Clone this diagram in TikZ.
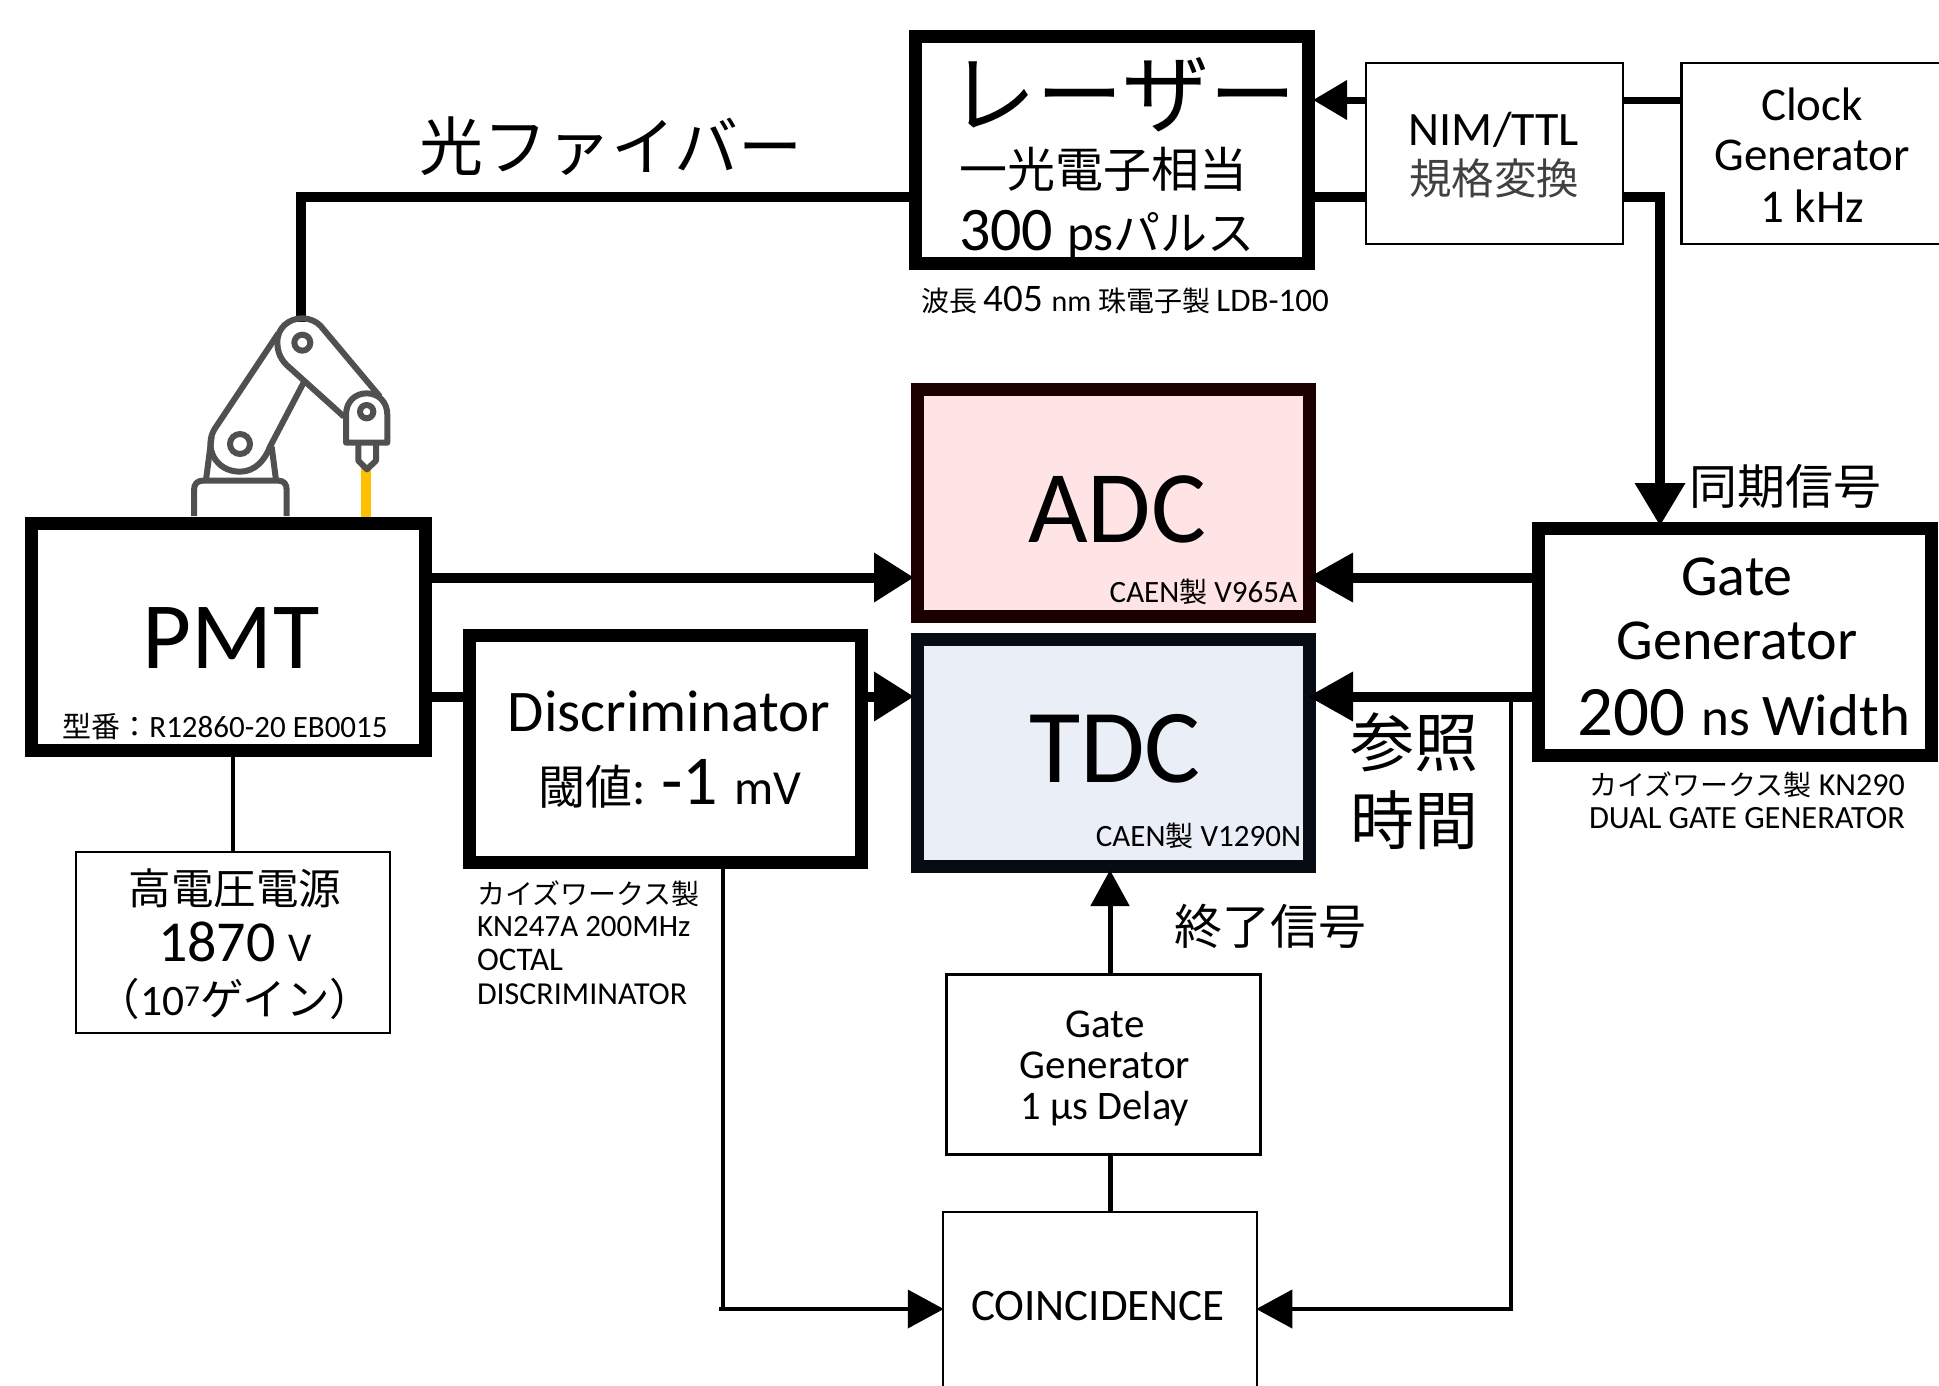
\documentclass[tikz,border=0pt]{standalone}
\usepackage{fontspec}
\setmainfont{Carlito}
\newfontfamily\cjk{Noto Sans CJK JP}
\usetikzlibrary{arrows.meta}
\newcommand{\fs}[1]{\fontsize{#1}{#1}\selectfont}
\newcommand{\cj}[1]{{\cjk #1}}
\definecolor{armgray}{HTML}{505050}
\definecolor{beamyellow}{HTML}{FFC000}
\definecolor{adcfill}{HTML}{FFE4E5}
\definecolor{adcedge}{HTML}{1A0000}
\definecolor{tdcfill}{HTML}{EAEEF7}
\definecolor{tdcedge}{HTML}{060B14}
\tikzset{
  thickbox/.style={draw=black,line width=13pt,inner sep=0pt,fill=white},
  thinbox/.style={draw=black,line width=2.5pt,inner sep=0pt,fill=white},
  lbl/.style={inner sep=0pt,outer sep=0pt,anchor=center,align=center},
  wire/.style={draw=black,line width=10pt},
  midwire/.style={draw=black,line width=7pt},
  fine/.style={draw=black,line width=4pt},
  stopline/.style={draw=black,line width=5pt},
  bighead/.style={-{Triangle[length=40pt,width=47pt]}},
  rearhead/.style={-{Triangle[length=45pt,width=47pt]}},
  laserhead/.style={-{Triangle[length=34pt,width=38pt]}},
  smallhead/.style={-{Triangle[length=36pt,width=38pt]}},
  armline/.style={draw=armgray,line width=6pt,line join=round}
}
\begin{document}
\begin{tikzpicture}[x=1pt,y=-1pt]
\useasboundingbox (0,0) rectangle (1939,1385);

% boxes
\node[thickbox,minimum width=393pt,minimum height=227pt] (laser) at (1112,150) {};
\node[thickbox,draw=adcedge,fill=adcfill,minimum width=392pt,minimum height=227pt] (adc) at (1113.5,503) {};
\node[thickbox,draw=tdcedge,fill=tdcfill,minimum width=392pt,minimum height=227pt] (tdc) at (1113.5,753) {};
\node[thickbox,minimum width=394pt,minimum height=227pt] (pmt) at (228.5,637) {};
\node[thickbox,minimum width=392pt,minimum height=227pt] (disc) at (665,749) {};
\node[thickbox,minimum width=393pt,minimum height=227pt] (gate) at (1735,642) {};
\node[thinbox,minimum width=257pt,minimum height=181pt] (nim) at (1494.5,153.5) {};
\node[thinbox,minimum width=259pt,minimum height=181pt] (clock) at (1811,153.5) {};
\node[thinbox,minimum width=314pt,minimum height=181pt] (hv) at (233,942.5) {};
\node[thinbox,minimum width=314pt,minimum height=180pt] (delay) at (1103.5,1064.5) {};
\node[thinbox,minimum width=314pt,minimum height=188pt] (coin) at (1100,1306) {};

% helper coordinates
\coordinate (robottop) at (300.5,322);
\coordinate (nozzle) at (366,467);
\coordinate (fiberx) at (300.5,0);
\coordinate (ylaserin) at (0,100);
\coordinate (ylaserout) at (0,196.5);
\coordinate (ysync) at (1660,0);
\coordinate (yadc) at (0,577.5);
\coordinate (ytdc) at (0,696.5);
\coordinate (xhv) at (232.5,0);
\coordinate (xstop) at (1110,0);
\coordinate (xdisc) at (723,0);
\coordinate (xstub) at (719,0);
\coordinate (xref) at (1510.5,0);
\coordinate (ycoin) at (0,1309);

% connectors
\draw[wire] (laser.west |- ylaserout) -- (fiberx |- ylaserout) -- (robottop);
\draw[midwire] (clock.west |- ylaserin) -- (nim.east |- ylaserin);
\draw[midwire,laserhead] (nim.west |- ylaserin) -- ([xshift=-2pt]laser.east |- ylaserin);
\draw[wire] (laser.east |- ylaserout) -- (nim.west |- ylaserout);
\draw[wire,-{Triangle[length=43pt,width=48pt]}] (nim.east |- ylaserout) -- (ysync |- ylaserout) -- ([yshift=-4pt]ysync |- gate.north);
\draw[wire,bighead] (pmt.east |- yadc) -- ([xshift=3pt]adc.west |- yadc);
\draw[wire] (pmt.east |- ytdc) -- (disc.west |- ytdc);
\draw[wire,bighead] (disc.east |- ytdc) -- ([xshift=3pt]tdc.west |- ytdc);
\draw[wire,rearhead] (gate.west |- yadc) -- ([xshift=-8pt]adc.east |- yadc);
\draw[wire,rearhead] (gate.west |- ytdc) -- ([xshift=-8pt]tdc.east |- ytdc);
\draw[fine] (pmt.south -| xhv) -- (hv.north -| xhv);
\draw[stopline,smallhead] (delay.north -| xstop) -- ([yshift=3pt]tdc.south -| xstop);
\draw[stopline] (coin.north -| xstop) -- (delay.south -| xstop);
\draw[fine] (disc.south -| xdisc) -- (xdisc |- ycoin);
\draw[fine,smallhead] (xstub |- ycoin) -- ([xshift=2pt]coin.west |- ycoin);
\draw[fine,smallhead,line join=miter] (xref |- ytdc) -- (xref |- ycoin) -- ([xshift=-2pt]coin.east |- ycoin);

% robot arm
\draw[beamyellow,line width=10pt] (nozzle) -- (pmt.north -| nozzle);
\begin{scope}[shift={(170,290)},x=0.33333pt,y=-0.33333pt]
  \draw[armline] (72,678) -- (72,600) .. controls (72,582) and (82,572) .. (98,572) -- (325,572) .. controls (342,572) and (350,582) .. (350,600) -- (350,678);
  \draw[armline] (125,440) -- (108,570);
  \draw[armline] (305,470) -- (318,570);
  \draw[armline] (325,130) -- (135,415) .. controls (100,470) and (135,545) .. (210,545) .. controls (255,545) and (285,510) .. (300,470) -- (405,270);
  \draw[armline] (210,462) circle (30);
  \draw[armline] (522,380) -- (350,225) .. controls (325,200) and (322,175) .. (322,155) .. controls (322,115) and (355,85) .. (397,85) .. controls (420,85) and (440,95) .. (452,108) -- (630,320);
  \draw[armline] (397,158) circle (24);
  \draw[armline,fill=white] (528,458) -- (528,375) .. controls (528,335) and (555,310) .. (590,310) .. controls (625,310) and (652,335) .. (652,375) -- (652,458) -- cycle;
  \draw[armline] (590,365) circle (20);
  \draw[armline] (565,458) -- (565,512) -- (591,538) -- (618,512) -- (618,458);
\end{scope}

% laser
\node[lbl,font=\fs{87}] (t1) at (1123,95) {\cj{レーザー}};
\node[lbl,font=\fs{48}] (t2) at (1103,169) {\cj{一光電子相当}};
\node[lbl] (t3) at (1107,234) {\fs{62}300 \fs{51}ps\cj{\fs{47}パルス}};
\node[lbl] (t4) at (1125,300) {\fs{28}\cj{波長} \fs{39}405 \fs{30}nm \fs{28}\cj{珠電子製} \fs{33}LDB-100};
\node[lbl,font=\fs{64}] (t5) at (611,146) {\cj{光ファイバー}};
% ADC TDC
\node[lbl,font=\fs{103}] (t6) at (1117,509) {ADC};
\node[lbl,anchor=east] (t7) at (1297,592) {\fs{31}CAEN\cj{\fs{28}製} V965A};
\node[lbl,font=\fs{105}] (t8) at (1115,749) {TDC};
\node[lbl,anchor=east] (t9) at (1301,836) {\fs{31}CAEN\cj{\fs{28}製} V1290N};
% PMT
\node[lbl,font=\fs{95}] (t10) at (231,638) {PMT};
\node[lbl] (t11) at (225,727) {\cj{\fs{29}型番：}\fs{31}R12860-20 EB0015};
% Disc
\node[lbl,font=\fs{59}] (t12) at (669,711) {Discriminator};
\node[lbl] (t13) at (670,784) {\cj{\fs{47}閾値}\fs{50}: \fs{70}-1 \fs{49}mV};
\node[lbl,anchor=west] (t14) at (477,894) {\cj{\fs{28}カイズワークス製}};
\node[lbl,anchor=west,font=\fs{31}] (t15) at (477,927) {KN247A 200MHz};
\node[lbl,anchor=west,font=\fs{33}] (t16) at (477,960) {OCTAL};
\node[lbl,anchor=west,font=\fs{32}] (t17) at (477,994) {DISCRIMINATOR};
% HV
\node[lbl,font=\fs{42.5}] (t18) at (235,888) {\cj{高電圧電源}};
\node[lbl] (t19) at (235,942) {\fs{58}1870 \fs{41}V};
\node[lbl] (t20) at (235,999) {\cj{\fs{43.5}（}\fs{43.5}10\textsuperscript{7}\cj{\fs{43.5}ゲイン）}};
% Gate
\node[lbl,font=\fs{58}] (t21) at (1737,577) {Gate};
\node[lbl,font=\fs{58}] (t22) at (1737,641) {Generator};
\node[lbl] (t23) at (1744,713) {\fs{71}200 \fs{53}ns \fs{59}Width};
\node[lbl] (t24) at (1747,785) {\fs{32}\cj{\fs{28}カイズワークス製} KN290};
\node[lbl,font=\fs{32.4}] (t25) at (1747,818) {DUAL GATE GENERATOR};
\node[lbl,font=\fs{48}] (t26) at (1785,486) {\cj{同期信号}};
\node[lbl,font=\fs{64}] (t27) at (1414,742) {\cj{参照}};
\node[lbl,font=\fs{64}] (t28) at (1414,820) {\cj{時間}};
\node[lbl,font=\fs{48}] (t29) at (1270,926) {\cj{終了信号}};
% delay
\node[lbl,font=\fs{41}] (t30) at (1105,1024) {Gate};
\node[lbl,font=\fs{41}] (t31) at (1105,1065) {Generator};
\node[lbl,font=\fs{40.5}] (t32) at (1105,1109) {1 µs Delay};
\node[lbl,font=\fs{45}] (t33) at (1098,1306) {COINCIDENCE};
% NIM, clock
\node[lbl,font=\fs{48}] (t34) at (1494,130) {NIM/TTL};
\node[lbl,font=\fs{42.5},text=black!75] (t35) at (1494,178) {\cj{規格変換}};
\node[lbl,font=\fs{47}] (t36) at (1812,104) {Clock};
\node[lbl,font=\fs{47}] (t37) at (1812,155) {Generator};
\node[lbl,font=\fs{47}] (t38) at (1812,206) {1 kHz};
\end{tikzpicture}
\end{document}
